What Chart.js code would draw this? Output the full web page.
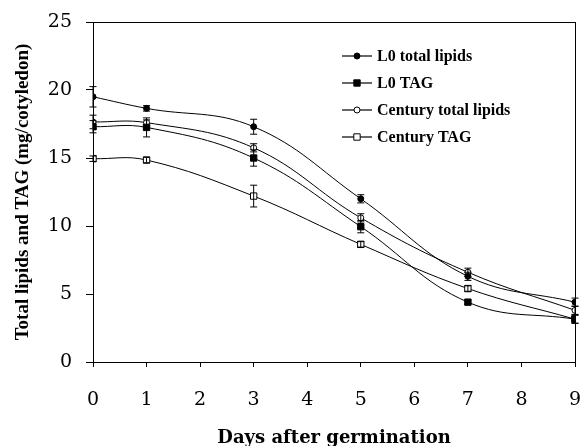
<!DOCTYPE html>
<html>
<head>
<meta charset="utf-8">
<script src="https://cdn.jsdelivr.net/npm/chart.js@4.4.1/dist/chart.umd.min.js"></script>
<style>
  html, body { margin: 0; padding: 0; background: #fff; }
  #wrap { width: 583px; height: 446px; }
</style>
</head>
<body>
<div id="wrap"><canvas id="lipidChart" width="583" height="446"></canvas></div>
<script>
// Days after germination (x values)
const days = [0, 1, 3, 5, 7, 9];
const seriesNames = ['L0 total lipids', 'L0 TAG', 'Century total lipids', 'Century TAG'];

// mg/cotyledon
const l0Total = [19.5, 18.65, 17.3, 12.0, 6.3, 4.4];
const l0Tag = [17.3, 17.25, 15.0, 9.95, 4.4, 3.15];
const centuryTotal = [17.65, 17.6, 15.75, 10.6, 6.6, 3.8];
const centuryTag = [14.95, 14.85, 12.2, 8.65, 5.4, 3.15];

// error bar half-lengths
const l0TotalErr = [0.75, 0.2, 0.55, 0.3, 0.3, 0.3];
const l0TagErr = [0.45, 0.7, 0.6, 0.45, 0.15, 0.3];
const centuryTotalErr = [0.5, 0.2, 0.3, 0.3, 0.3, 0.3];
const centuryTagErr = [0.2, 0.2, 0.8, 0.2, 0.2, 0.3];

const yTicks = [0, 5, 10, 15, 20, 25];
const xTicks = [0, 1, 2, 3, 4, 5, 6, 7, 8, 9];

const toPoints = vals => vals.map((v, i) => ({ x: days[i], y: v }));

function makeSet(label, vals, errs, style, radius, filled) {
    return {
        label: label,
        data: toPoints(vals),
        errors: errs,
        borderColor: '#000',
        borderWidth: 1,
        backgroundColor: filled ? '#000' : '#fff',
        pointStyle: style,
        pointRadius: radius,
        pointBorderWidth: 1,
        pointBorderColor: '#000',
        pointBackgroundColor: filled ? '#000' : '#fff',
        tension: 0.4,
        fill: false
    };
}

// error bars, plot frame and the in-plot legend
const extras = {
    id: 'extras',
    afterDatasetsDraw(chart) {
        const ctx = chart.ctx;
        const yScale = chart.scales.y;
        ctx.save();
        ctx.strokeStyle = '#000';
        ctx.lineWidth = 1;
        chart.data.datasets.forEach((ds, i) => {
            const meta = chart.getDatasetMeta(i);
            meta.data.forEach((pt, j) => {
                const v = ds.data[j].y, e = ds.errors[j];
                const top = yScale.getPixelForValue(v + e);
                const bot = yScale.getPixelForValue(v - e);
                ctx.beginPath();
                ctx.moveTo(pt.x, top); ctx.lineTo(pt.x, bot);
                ctx.moveTo(pt.x - 3.5, top); ctx.lineTo(pt.x + 3.5, top);
                ctx.moveTo(pt.x - 3.5, bot); ctx.lineTo(pt.x + 3.5, bot);
                ctx.stroke();
            });
        });
        ctx.restore();
    },
    afterDraw(chart) {
        const ctx = chart.ctx;
        const a = chart.chartArea;
        ctx.save();
        ctx.strokeStyle = '#000';
        ctx.lineWidth = 1;
        ctx.strokeRect(a.left + 0.5, a.top + 0.5, a.right - a.left, a.bottom - a.top);

        // legend
        const x0 = 342, x1 = 372, rowY = [56, 83, 110, 137];
        ctx.font = 'bold 16px "Liberation Serif", "Times New Roman", serif';
        ctx.textBaseline = 'middle';
        ctx.textAlign = 'left';
        chart.data.datasets.forEach((ds, i) => {
            const y = rowY[i];
            ctx.beginPath();
            ctx.lineWidth = 1.2;
            ctx.moveTo(x0, y); ctx.lineTo(x1, y);
            ctx.stroke();
            ctx.lineWidth = 1;
            ctx.fillStyle = ds.pointBackgroundColor;
            Chart.helpers.drawPoint(ctx, {
                pointStyle: ds.pointStyle,
                radius: ds.pointRadius,
                borderWidth: 1,
                rotation: 0
            }, (x0 + x1) / 2, y);
            ctx.fillStyle = '#000';
            ctx.fillText(ds.label, 377, y + 1);
        });
        ctx.restore();
    }
};

new Chart(document.getElementById('lipidChart'), {
    type: 'line',
    data: {
        datasets: [
            makeSet(seriesNames[0], l0Total, l0TotalErr, 'circle', 3, true),
            makeSet(seriesNames[1], l0Tag, l0TagErr, 'rect', 4.5, true),
            makeSet(seriesNames[2], centuryTotal, centuryTotalErr, 'circle', 3, false),
            makeSet(seriesNames[3], centuryTag, centuryTagErr, 'rect', 4.5, false)
        ]
    },
    options: {
        responsive: false,
        animation: false,
        devicePixelRatio: 1,
        layout: { padding: { top: 22, right: 8, left: 0, bottom: 0 } },
        plugins: {
            legend: { display: false },
            tooltip: { enabled: false }
        },
        scales: {
            x: {
                type: 'linear',
                min: 0,
                max: 9,
                afterBuildTicks: s => { s.ticks = xTicks.map(v => ({ value: v })); },
                afterFit: s => { s.height = 84; s.paddingLeft = 0; s.paddingRight = 0; },
                grid: { drawOnChartArea: false, drawTicks: true, tickLength: 5, color: '#000' },
                border: { color: '#000', width: 1 },
                ticks: {
                    color: '#000',
                    padding: 22,
                    maxRotation: 0,
                    font: { family: '"DejaVu Serif", serif', size: 19 }
                },
                title: {
                    display: true,
                    text: 'Days after germination',
                    color: '#000',
                    padding: { top: 0, bottom: 0 },
                    font: { family: '"DejaVu Serif", serif', size: 18, weight: 'bold', lineHeight: 0.9 }
                }
            },
            y: {
                min: 0,
                max: 25,
                afterBuildTicks: s => { s.ticks = yTicks.map(v => ({ value: v })); },
                afterFit: s => { s.width = 93; s.paddingTop = 0; s.paddingBottom = 0; },
                grid: { drawOnChartArea: false, drawTicks: true, tickLength: 7, color: '#000' },
                border: { color: '#000', width: 1 },
                ticks: {
                    color: '#000',
                    padding: 14,
                    font: { family: '"DejaVu Serif", serif', size: 19 }
                },
                title: {
                    display: true,
                    text: 'Total lipids and TAG (mg/cotyledon)',
                    color: '#000',
                    padding: { top: 12, bottom: 0 },
                    font: { family: '"Liberation Serif", "Times New Roman", serif', size: 19, weight: 'bold' }
                }
            }
        }
    },
    plugins: [extras]
});
</script>
</body>
</html>
